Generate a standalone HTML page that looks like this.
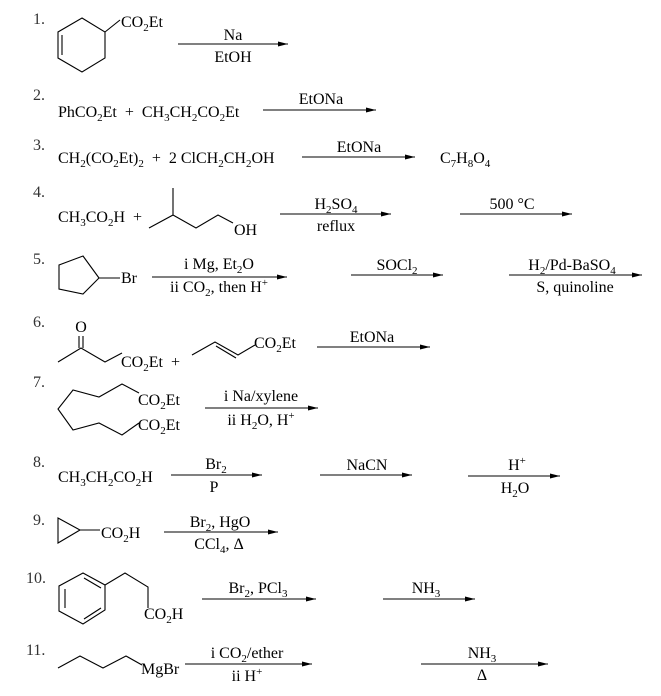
<!DOCTYPE html>
<html><head><meta charset="utf-8"><style>
html,body{margin:0;padding:0;background:#fff}
svg{display:block}
text{font-family:"Liberation Serif",serif;font-size:16px;fill:#000;white-space:pre}
.n{fill:#333}
.s{font-size:11px}
</style></head><body>
<svg width="661" height="696" viewBox="0 0 661 696" xmlns="http://www.w3.org/2000/svg" xml:space="preserve">
<defs><marker id="a" markerWidth="10" markerHeight="6" refX="10" refY="3" orient="auto" markerUnits="userSpaceOnUse"><path d="M0,0.5 L10,3 L0,5.5 z" fill="#000"/></marker></defs>
<g stroke="#000" stroke-width="1.1" fill="none">
<path d="M82,18 L105,32 L105,58 L82,72 L58,58 L58,32 Z M62,35 L62,55 M105,32 L120,20"/>
<line x1="178" y1="44" x2="288" y2="44" marker-end="url(#a)"/>
<line x1="263" y1="110" x2="376" y2="110" marker-end="url(#a)"/>
<line x1="302" y1="157" x2="415" y2="157" marker-end="url(#a)"/>
<path d="M149,228 L173,215 L173,188 M173,215 L196,228 L218,215 L233,223"/>
<line x1="280" y1="214" x2="391" y2="214" marker-end="url(#a)"/>
<line x1="460" y1="214" x2="572" y2="214" marker-end="url(#a)"/>
<path d="M83,256 L99,278 L83,294 L59,289 L59,265 Z M99,278 L120,278"/>
<line x1="152" y1="277" x2="287" y2="277" marker-end="url(#a)"/>
<line x1="351" y1="275" x2="443" y2="275" marker-end="url(#a)"/>
<line x1="509" y1="275" x2="642" y2="275" marker-end="url(#a)"/>
<path d="M58,362 L81,348 L105,362 L122,353 M79,336 L79,348 M83,336 L83,348"/>
<path d="M192,355 L215,342 L238,355 L255,345 M216,346 L236,358"/>
<line x1="317" y1="347" x2="430" y2="347" marker-end="url(#a)"/>
<path d="M139,393 L122,384 L99,397 L73,390 L58,409 L73,430 L99,423 L122,435 L139,423"/>
<line x1="205" y1="408" x2="318" y2="408" marker-end="url(#a)"/>
<line x1="171" y1="475" x2="262" y2="475" marker-end="url(#a)"/>
<line x1="320" y1="475" x2="412" y2="475" marker-end="url(#a)"/>
<line x1="468" y1="476" x2="560" y2="476" marker-end="url(#a)"/>
<path d="M58,518 L80,530 L58,543 Z M80,530 L100,530"/>
<line x1="164" y1="532" x2="278" y2="532" marker-end="url(#a)"/>
<path d="M83,573 L105,585 L105,610 L83,624 L59,611 L59,586 Z M65,589 L65,608 M84,578 L101,588 M84,619 L101,608 M105,585 L125,573 L148,587 L148,608"/>
<line x1="202" y1="599" x2="316" y2="599" marker-end="url(#a)"/>
<line x1="383" y1="599" x2="475" y2="599" marker-end="url(#a)"/>
<path d="M58,668 L80,656 L103,668 L126,656 L142,665"/>
<line x1="185" y1="664" x2="312" y2="664" marker-end="url(#a)"/>
<line x1="421" y1="664" x2="548" y2="664" marker-end="url(#a)"/>
</g>

<text class="n" x="33" y="24">1.</text>
<text x="121" y="27">CO<tspan class="s" dy="4">2</tspan><tspan dy="-4">Et</tspan></text>
<text x="233" y="40" text-anchor="middle">Na</text>
<text x="233" y="62" text-anchor="middle">EtOH</text>

<text class="n" x="33" y="100">2.</text>
<text x="58" y="117">PhCO<tspan class="s" dy="4">2</tspan><tspan dy="-4">Et  +  CH</tspan><tspan class="s" dy="4">3</tspan><tspan dy="-4">CH</tspan><tspan class="s" dy="4">2</tspan><tspan dy="-4">CO</tspan><tspan class="s" dy="4">2</tspan><tspan dy="-4">Et</tspan></text>
<text x="321" y="104" text-anchor="middle">EtONa</text>

<text class="n" x="33" y="150">3.</text>
<text x="58" y="163">CH<tspan class="s" dy="4">2</tspan><tspan dy="-4">(CO</tspan><tspan class="s" dy="4">2</tspan><tspan dy="-4">Et)</tspan><tspan class="s" dy="4">2</tspan><tspan dy="-4">  +  2 ClCH</tspan><tspan class="s" dy="4">2</tspan><tspan dy="-4">CH</tspan><tspan class="s" dy="4">2</tspan><tspan dy="-4">OH</tspan></text>
<text x="359" y="152" text-anchor="middle">EtONa</text>
<text x="440" y="163">C<tspan class="s" dy="4">7</tspan><tspan dy="-4">H</tspan><tspan class="s" dy="4">8</tspan><tspan dy="-4">O</tspan><tspan class="s" dy="4">4</tspan></text>

<text class="n" x="33" y="197">4.</text>
<text x="58" y="222">CH<tspan class="s" dy="4">3</tspan><tspan dy="-4">CO</tspan><tspan class="s" dy="4">2</tspan><tspan dy="-4">H  +</tspan></text>
<text x="234" y="235">OH</text>
<text x="336" y="209" text-anchor="middle">H<tspan class="s" dy="4">2</tspan><tspan dy="-4">SO</tspan><tspan class="s" dy="4">4</tspan></text>
<text x="336" y="231" text-anchor="middle">reflux</text>
<text x="512" y="209" text-anchor="middle">500 °C</text>

<text class="n" x="33" y="264">5.</text>
<text x="121" y="283">Br</text>
<text x="219" y="269" text-anchor="middle">i Mg, Et<tspan class="s" dy="4">2</tspan><tspan dy="-4">O</tspan></text>
<text x="219" y="292" text-anchor="middle">ii CO<tspan class="s" dy="4">2</tspan><tspan dy="-4">, then H</tspan><tspan class="s" dy="-6">+</tspan></text>
<text x="397" y="270" text-anchor="middle">SOCl<tspan class="s" dy="4">2</tspan></text>
<text x="572" y="270" text-anchor="middle">H<tspan class="s" dy="4">2</tspan><tspan dy="-4">/Pd-BaSO</tspan><tspan class="s" dy="4">4</tspan></text>
<text x="575" y="292" text-anchor="middle">S, quinoline</text>

<text class="n" x="33" y="327">6.</text>
<text x="81" y="332" text-anchor="middle">O</text>
<text x="121" y="367">CO<tspan class="s" dy="4">2</tspan><tspan dy="-4">Et  +</tspan></text>
<text x="254" y="348">CO<tspan class="s" dy="4">2</tspan><tspan dy="-4">Et</tspan></text>
<text x="372" y="342" text-anchor="middle">EtONa</text>

<text class="n" x="33" y="387">7.</text>
<text x="138" y="405">CO<tspan class="s" dy="4">2</tspan><tspan dy="-4">Et</tspan></text>
<text x="138" y="430">CO<tspan class="s" dy="4">2</tspan><tspan dy="-4">Et</tspan></text>
<text x="261" y="401" text-anchor="middle">i Na/xylene</text>
<text x="261" y="425" text-anchor="middle">ii H<tspan class="s" dy="4">2</tspan><tspan dy="-4">O, H</tspan><tspan class="s" dy="-6">+</tspan></text>

<text class="n" x="33" y="467">8.</text>
<text x="58" y="482">CH<tspan class="s" dy="4">3</tspan><tspan dy="-4">CH</tspan><tspan class="s" dy="4">2</tspan><tspan dy="-4">CO</tspan><tspan class="s" dy="4">2</tspan><tspan dy="-4">H</tspan></text>
<text x="216" y="469" text-anchor="middle">Br<tspan class="s" dy="4">2</tspan></text>
<text x="214" y="492" text-anchor="middle">P</text>
<text x="367" y="470" text-anchor="middle">NaCN</text>
<text x="517" y="470" text-anchor="middle">H<tspan class="s" dy="-6">+</tspan></text>
<text x="515" y="493" text-anchor="middle">H<tspan class="s" dy="4">2</tspan><tspan dy="-4">O</tspan></text>

<text class="n" x="33" y="525">9.</text>
<text x="101" y="538">CO<tspan class="s" dy="4">2</tspan><tspan dy="-4">H</tspan></text>
<text x="220" y="527" text-anchor="middle">Br<tspan class="s" dy="4">2</tspan><tspan dy="-4">, HgO</tspan></text>
<text x="219" y="549" text-anchor="middle">CCl<tspan class="s" dy="4">4</tspan><tspan dy="-4">, Δ</tspan></text>

<text class="n" x="26" y="583">10.</text>
<text x="144" y="619">CO<tspan class="s" dy="4">2</tspan><tspan dy="-4">H</tspan></text>
<text x="258" y="593" text-anchor="middle">Br<tspan class="s" dy="4">2</tspan><tspan dy="-4">, PCl</tspan><tspan class="s" dy="4">3</tspan></text>
<text x="426" y="593" text-anchor="middle">NH<tspan class="s" dy="4">3</tspan></text>

<text class="n" x="26" y="655">11.</text>
<text x="141" y="674">MgBr</text>
<text x="247" y="658" text-anchor="middle">i CO<tspan class="s" dy="4">2</tspan><tspan dy="-4">/ether</tspan></text>
<text x="247" y="681" text-anchor="middle">ii H<tspan class="s" dy="-6">+</tspan></text>
<text x="482" y="658" text-anchor="middle">NH<tspan class="s" dy="4">3</tspan></text>
<text x="482" y="680" text-anchor="middle">Δ</text>
</svg>
</body></html>
